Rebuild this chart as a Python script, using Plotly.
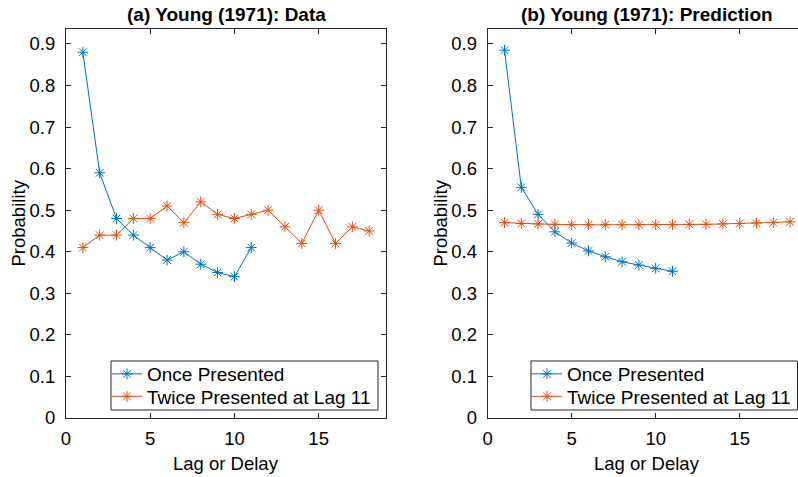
import plotly.graph_objects as go

# ---- data ----
lags_once = list(range(1, 12))
lags_twice = list(range(1, 19))

data_once = [0.88, 0.59, 0.48, 0.44, 0.41, 0.38, 0.40, 0.37, 0.35, 0.34, 0.41]
data_twice = [0.41, 0.44, 0.44, 0.48, 0.48, 0.51, 0.47, 0.52, 0.49, 0.48,
              0.49, 0.50, 0.46, 0.42, 0.50, 0.42, 0.46, 0.45]

pred_once = [0.885, 0.555, 0.49, 0.448, 0.421, 0.402, 0.388, 0.376, 0.368, 0.360, 0.353]
pred_twice = [0.470, 0.468, 0.467, 0.466, 0.465, 0.465, 0.465, 0.465, 0.465, 0.465,
              0.465, 0.466, 0.466, 0.467, 0.468, 0.469, 0.470, 0.472]

series_names = ["Once Presented", "Twice Presented at Lag 11"]
titles = ["(a) Young (1971): Data", "(b) Young (1971): Prediction"]
x_ticks = [0, 5, 10, 15]
y_ticks = [0, 0.1, 0.2, 0.3, 0.4, 0.5, 0.6, 0.7, 0.8, 0.9]
y_ticktext = ["0", "0.1", "0.2", "0.3", "0.4", "0.5", "0.6", "0.7", "0.8", "0.9"]

BLUE = "#0072BD"
ORANGE = "#D95319"
AX = "#262626"
FONT = "Liberation Sans, Arial, Helvetica, sans-serif"

W, H = 798, 477
ML, MT, MB = 66, 29, 59
PW = W - ML
PH = H - MT - MB


def px_x(p):
    return (p - ML) / PW


def px_y(p):
    return (H - MB - p) / PH


fig = go.Figure()


def add(xs, ys, name, color, xa, ya, leg):
    fig.add_trace(go.Scatter(
        x=xs, y=ys, name=name, mode="lines+markers",
        line=dict(color=color, width=1),
        marker=dict(symbol="asterisk-open", size=9, color=color,
                    line=dict(color=color, width=1)),
        xaxis=xa, yaxis=ya, legend=leg))


add(lags_once, data_once, series_names[0], BLUE, "x", "y", "legend")
add(lags_twice, data_twice, series_names[1], ORANGE, "x", "y", "legend3")
add(lags_once, pred_once, series_names[0], BLUE, "x2", "y2", "legend2")
add(lags_twice, pred_twice, series_names[1], ORANGE, "x2", "y2", "legend4")

ppu = 16.8  # pixels per x unit
left_end = px_x(386)
right_start = px_x(487.7)
right_range = (W - 487.7) / ppu

axis_common = dict(
    showgrid=False, zeroline=False, showline=True, linecolor=AX, linewidth=1,
    ticks="inside", ticklen=5, tickcolor=AX, tickwidth=1,
    tickfont=dict(family=FONT, size=18.5, color="#000000"),
)

yr = [0, 0.936]


def leg(xpix, ypix):
    return dict(x=px_x(xpix), xanchor="left", y=px_y(ypix), yanchor="middle",
                bgcolor="rgba(0,0,0,0)", borderwidth=0,
                font=dict(family=FONT, size=19, color="#000000"),
                itemwidth=30, tracegroupgap=0)


fig.update_layout(
    width=W, height=H,
    margin=dict(l=ML, r=0, t=MT, b=MB, pad=0),
    paper_bgcolor="white", plot_bgcolor="white",
    font=dict(family=FONT, color="#000000"),
    xaxis=dict(domain=[0, left_end], range=[0, 19], tickvals=x_ticks,
               mirror="ticks", anchor="y", ticklabelstandoff=4, **axis_common),
    yaxis=dict(domain=[0, 1], range=yr, tickvals=y_ticks, ticktext=y_ticktext,
               mirror="ticks", anchor="x", ticklabelstandoff=6, **axis_common),
    xaxis2=dict(domain=[right_start, 1], range=[0, right_range], tickvals=x_ticks,
                mirror="ticks", anchor="y2", ticklabelstandoff=4, **axis_common),
    yaxis2=dict(domain=[0, 1], range=yr, tickvals=y_ticks, ticktext=y_ticktext,
                mirror=False, anchor="x2", ticklabelstandoff=6, **axis_common),
    legend=leg(107, 374),
    legend3=leg(107, 396.5),
    legend2=leg(527, 374),
    legend4=leg(527, 396.5),
    showlegend=True,
)

# legend frames
for x0, x1 in [(111, 378), (531, 797.5)]:
    fig.add_shape(type="rect", xref="paper", yref="paper",
                  x0=px_x(x0), x1=px_x(x1), y0=px_y(410), y1=px_y(361),
                  line=dict(color=AX, width=1), fillcolor="white", layer="below")

# titles and axis labels as annotations, centred on each axes box (x = 9.5 data units)
for xr, t in [("x", titles[0]), ("x2", titles[1])]:
    fig.add_annotation(x=9.5, xref=xr, y=1, yref="paper", yanchor="bottom", yshift=2,
                       text="<b>" + t + "</b>", showarrow=False,
                       font=dict(family=FONT, size=19, color="#000000"))
    fig.add_annotation(x=9.5, xref=xr, y=0, yref="paper", yanchor="top", yshift=-33,
                       text="Lag or Delay", showarrow=False,
                       font=dict(family=FONT, size=18.5, color="#000000"))

for p in [18, 440]:
    fig.add_annotation(x=px_x(p), xref="paper", xanchor="center",
                       y=0.5, yref="paper", yanchor="middle",
                       text="Probability", textangle=-90, showarrow=False,
                       font=dict(family=FONT, size=18.5, color="#000000"))

fig.write_html("out.html")
